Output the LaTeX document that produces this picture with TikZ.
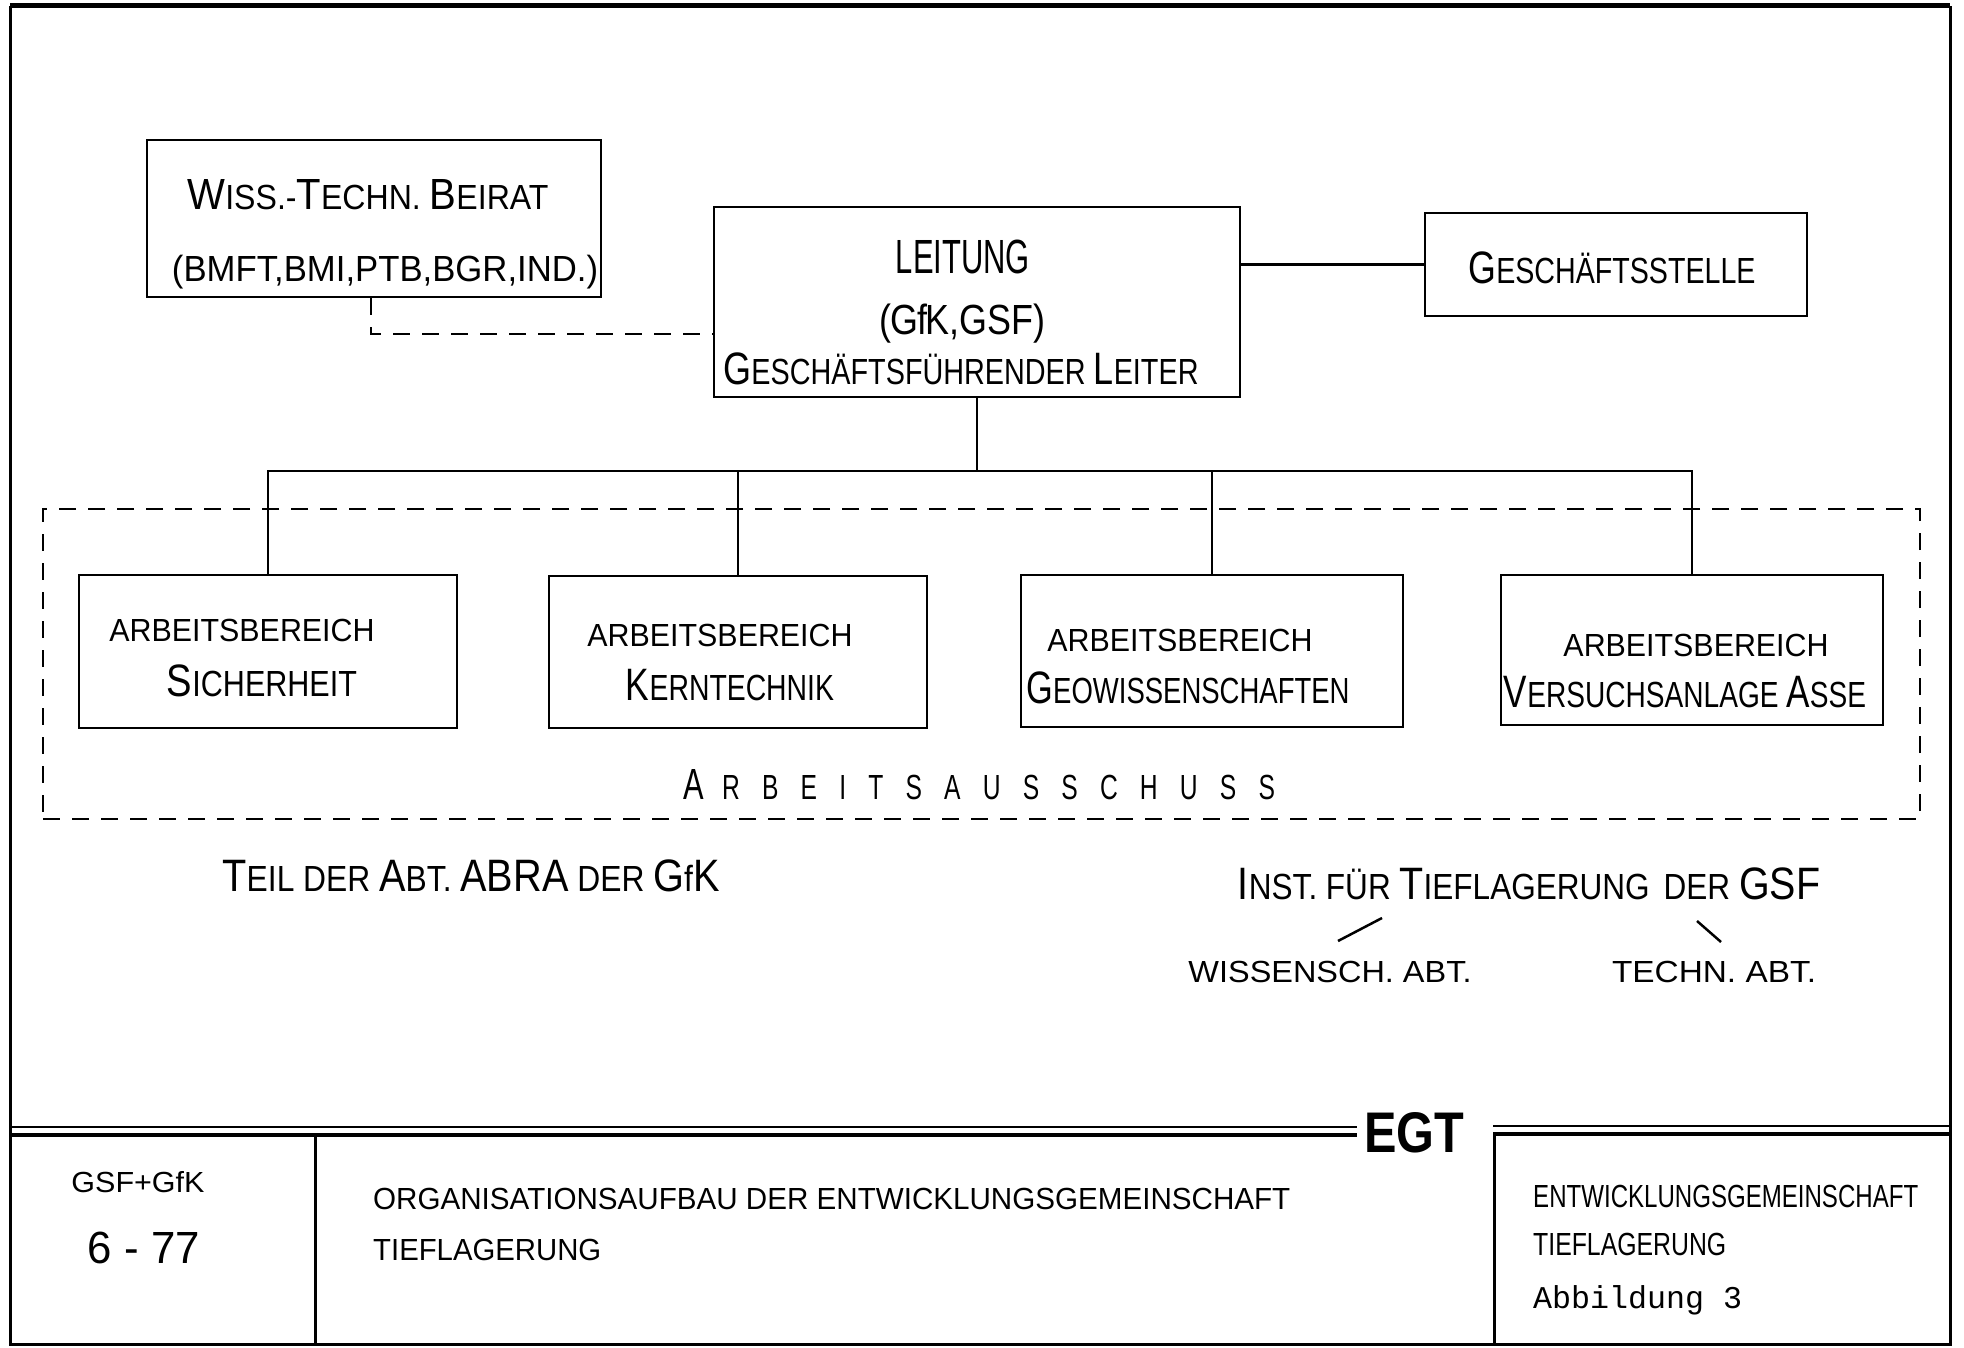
\documentclass[tikz,border=0pt]{standalone}
\usepackage{fontspec}
\setmainfont{Liberation Sans}
\newfontfamily\monof{Liberation Mono}
\newcommand\B[1]{{\fontsize{12.5}{12.5}\selectfont #1}}
\newcommand\fit[3]{\resizebox{#1pt}{#2pt}{\smash{#3}\vphantom{E}}}
\tikzset{
  boxx/.style={draw, line width=2.5pt, inner sep=0pt},
  txt/.style={inner sep=0pt, font=\fontsize{10}{10}\selectfont},
  conn/.style={line width=2.5pt},
  dsh/.style={line width=2.2pt, dash pattern=on 17pt off 12pt},
  frame/.style={line width=3pt}
}
\begin{document}
\begin{tikzpicture}[x=1pt,y=-1pt]
\useasboundingbox (0,0) rectangle (1964,1348);
% outer frame
\draw[frame] (10,6) -- (10,1344) -- (1950,1344) -- (1950,6);
\draw[line width=5pt] (10,6) -- (1950,6);

% boxes
\node[boxx, minimum width=454pt, minimum height=157pt] (wiss) at (374,218.5) {};
\node[boxx, minimum width=526pt, minimum height=190pt] (lei) at (977,302) {};
\node[boxx, minimum width=382pt, minimum height=103pt] (gs) at (1616,264.5) {};
\node[boxx, minimum width=378pt, minimum height=153pt] (b1) at (268,651.5) {};
\node[boxx, minimum width=378pt, minimum height=152pt] (b2) at (738,652) {};
\node[boxx, minimum width=382pt, minimum height=152pt] (b3) at (1212,651) {};
\node[boxx, minimum width=382pt, minimum height=150pt] (b4) at (1692,650) {};
\node[dsh, draw, inner sep=0pt, minimum width=1877pt, minimum height=310pt] (aa) at (981.5,664) {};

% texts in boxes
\node[txt] (t1) at (368,197) {\fit{361}{24}{\B{W}ISS.-\B{T}ECHN. \B{B}EIRAT}};
\node[txt] (t2) at (385,269) {\fit{426}{25}{(BMFT,BMI,PTB,BGR,IND.)}};
\node[txt] (t3) at (963,257) {\fit{134}{33}{LEITUNG}};
\node[txt] (t4) at (962,320) {\fit{166}{29}{(G\kern-0.05em f\kern-0.05em K,GSF)}};
\node[txt] (t5) at (961,372) {\fit{475}{25}{\B{G}ESCHÄFTSFÜHRENDER \B{L}EITER}};
\node[txt] (t6) at (1612,271) {\fit{287}{25}{\B{G}ESCHÄFTSSTELLE}};
\node[txt] (a1) at (242,630) {\fit{265}{22}{ARBEITSBEREICH}};
\node[txt] (s1) at (262,684) {\fit{190}{25}{\B{S}ICHERHEIT}};
\node[txt] (a2) at (720,635) {\fit{265}{22}{ARBEITSBEREICH}};
\node[txt] (s2) at (730,688) {\fit{208}{25}{\B{K}ERNTECHNIK}};
\node[txt] (a3) at (1180,640) {\fit{265}{22}{ARBEITSBEREICH}};
\node[txt] (s3) at (1188,691) {\fit{323}{25}{\B{G}EOWISSENSCHAFTEN}};
\node[txt] (a4) at (1696,645) {\fit{265}{22}{ARBEITSBEREICH}};
\node[txt] (s4) at (1685,695) {\fit{362}{25}{\B{V}ERSUCHSANLAGE \B{A}SSE}};
\node[txt] (aat) at (979,787) {\fit{592}{24}{\B{A}\kern0.75em{\addfontfeature{LetterSpace=90}RBEITSAUSSCHUSS}}};

% free texts
\node[txt] (teil) at (471,879) {\fit{497}{25}{\B{T}EIL DER \B{A}BT. \B{ABRA} DER \B{G}f\B{K}}};
\node[txt] (inst) at (1529,887) {\fit{582}{25}{\B{I}NST. FÜR \B{T}IEFLAGERUNG \,DER \B{GSF}}};
\node[txt] (wis) at (1330,972) {\fit{283}{21}{WISSENSCH. ABT.}};
\node[txt] (tec) at (1714,972) {\fit{204}{21}{TECHN. ABT.}};
\coordinate (sl1a) at (1382,918); \coordinate (sl1b) at (1338,941);
\coordinate (sl2a) at (1697,921); \coordinate (sl2b) at (1721,942);
\draw[line width=2.5pt] (sl1a) -- (sl1b);
\draw[line width=2.5pt] (sl2a) -- (sl2b);

% connectors
\coordinate (bus) at (977,471);
\draw[conn] (lei.south) -- (bus);
\draw[conn] (bus) -| (b1.north);
\draw[conn] (bus) -| (b2.north);
\draw[conn] (bus) -| (b3.north);
\draw[conn] (bus) -| (b4.north);
\draw[conn] (gs.west) -- (gs.west -| lei.east);
\coordinate (wd) at (371,334);
\draw[dsh] (wiss.south -| wd) |- (lei.west |- wd);

% title block
\draw[line width=2pt] (10,1127) -- (1357,1127);
\draw[line width=4pt] (10,1135) -- (1357,1135);
\draw[line width=2pt] (1493,1126) -- (1950,1126);
\draw[line width=4pt] (1493,1134) -- (1950,1134);
\node[txt] (egt) at (1414,1133) {\resizebox{100pt}{40pt}{\bfseries EGT}};
\coordinate (d1a) at (315,1137); \coordinate (d1b) at (315,1344);
\coordinate (d2a) at (1494,1136); \coordinate (d2b) at (1494,1344);
\draw[frame] (d1a) -- (d1b);
\draw[frame] (d2a) -- (d2b);
\node[txt] (gsf) at (138,1182) {\fit{133}{20}{GSF+GfK}};
\node[txt] (dat) at (144,1248) {\fit{112}{31}{6 - 77}};
\node[txt, anchor=west] (org) at (373,1199) {\fit{917}{21}{ORGANISATIONSAUFBAU DER ENTWICKLUNGSGEMEINSCHAFT}};
\node[txt, anchor=west] (tief) at (373,1250) {\fit{228}{21}{TIEFLAGERUNG}};
\node[txt, anchor=west] (ent) at (1533,1196) {\fit{385}{22}{ENTWICKLUNGSGEMEINSCHAFT}};
\node[txt, anchor=west] (tief2) at (1533,1244) {\fit{193}{22}{TIEFLAGERUNG}};
\node[txt, anchor=west] (abb) at (1533,1300) {\resizebox{209pt}{!}{\monof Abbildung 3}};
\end{tikzpicture}
\end{document}
